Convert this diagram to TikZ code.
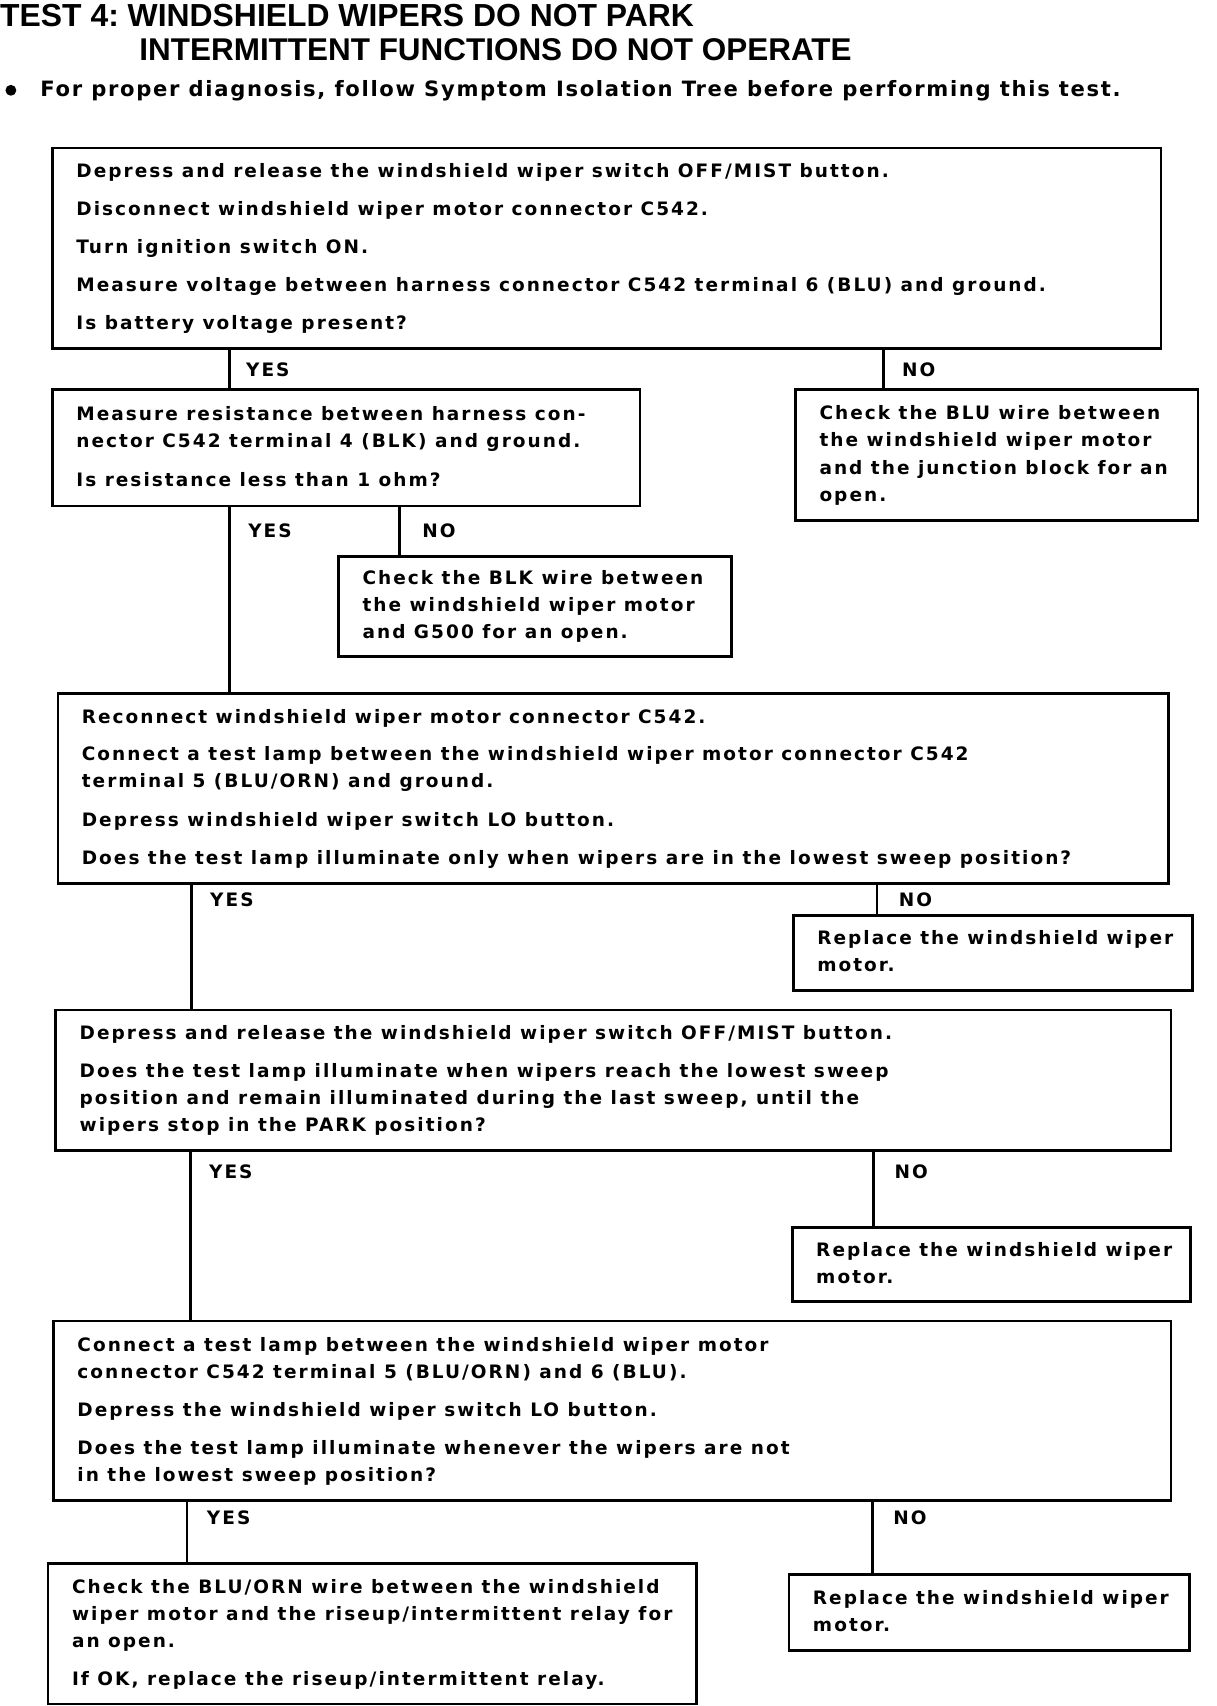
\documentclass[tikz,border=0pt]{standalone}
\usepackage{fontspec}
\setmainfont{Liberation Sans}
\newfontfamily\bodyfont{DejaVu Sans}[LetterSpace=11]
\newfontfamily\notefont{DejaVu Sans}[LetterSpace=8]
\newfontfamily\titlefont{Liberation Sans}
\newcommand\bx[2]{\makebox[#1][l]{\begin{tabular}{@{}l@{}}#2\end{tabular}}}
\frenchspacing
\begin{document}
\begin{tikzpicture}[x=1pt,y=-1pt,
  box/.style={draw, line width=2.4pt, anchor=north west, inner xsep=22pt, inner ysep=0pt,
    font=\bodyfont\bfseries\fontsize{17}{25}\selectfont},
  conn/.style={line width=2.4pt},
  lbl/.style={anchor=west, inner sep=0pt, font=\bodyfont\bfseries\fontsize{17}{25}\selectfont},
  ttl/.style={anchor=west, inner sep=0pt, font=\titlefont\bfseries\fontsize{29.3}{30}\selectfont}]
\useasboundingbox (0,0) rectangle (1118,1568);

\node[ttl] (t1) at (0,14) {TEST 4: WINDSHIELD WIPERS DO NOT PARK};
\node[ttl, font=\titlefont\bfseries\fontsize{28.9}{30}\selectfont] (t2) at (128,46) {INTERMITTENT FUNCTIONS DO NOT OPERATE};
\node[circle, fill, inner sep=0pt, minimum size=10pt] (bul) at (10,83) {};
\node[lbl, font=\notefont\bfseries\fontsize{19.4}{25}\selectfont] (note) at (37,83) {For proper diagnosis, follow Symptom Isolation Tree before performing this test.};

\node[box, minimum width=1019pt, minimum height=184pt] (b1) at (47,135) {\bx{975pt}{%
Depress and release the windshield wiper switch OFF/MIST button.\\[10pt]
Disconnect windshield wiper motor connector C542.\\[10pt]
Turn ignition switch ON.\\[10pt]
Measure voltage between harness connector C542 terminal 6 (BLU) and ground.\\[10pt]
Is battery voltage present?}};

\node[box, minimum width=540pt, minimum height=107pt] (b2) at (47,357) {\bx{496pt}{%
Measure resistance between harness con-\\
nector C542 terminal 4 (BLK) and ground.\\[10pt]
Is resistance less than 1 ohm?}};

\node[box, minimum width=370pt, minimum height=120pt] (b3) at (730,357) {\bx{326pt}{%
Check the BLU wire between\\
the windshield wiper motor\\
and the junction block for an\\
open.}};

\node[box, minimum width=361pt, minimum height=92pt] (b4) at (310,510) {\bx{317pt}{%
Check the BLK wire between\\
the windshield wiper motor\\
and G500 for an open.}};

\node[box, minimum width=1021pt, minimum height=175pt] (b5) at (52,636) {\bx{977pt}{%
Reconnect windshield wiper motor connector C542.\\[9pt]
Connect a test lamp between the windshield wiper motor connector C542\\
terminal 5 (BLU/ORN) and ground.\\[10pt]
Depress windshield wiper switch LO button.\\[10pt]
Does the test lamp illuminate only when wipers are in the lowest sweep position?}};

\node[box, minimum width=367pt, minimum height=69pt] (b6) at (728,840) {\bx{323pt}{%
Replace the windshield wiper\\
motor.}};

\node[box, minimum width=1025pt, minimum height=129pt] (b7) at (50,927) {\bx{981pt}{%
Depress and release the windshield wiper switch OFF/MIST button.\\[10pt]
Does the test lamp illuminate when wipers reach the lowest sweep\\
position and remain illuminated during the last sweep, until the\\
wipers stop in the PARK position?}};

\node[box, minimum width=366pt, minimum height=68pt] (b8) at (727,1127) {\bx{322pt}{%
Replace the windshield wiper\\
motor.}};

\node[box, minimum width=1027pt, minimum height=165pt] (b9) at (48,1213) {\bx{983pt}{%
Connect a test lamp between the windshield wiper motor\\
connector C542 terminal 5 (BLU/ORN) and 6 (BLU).\\[10pt]
Depress the windshield wiper switch LO button.\\[10pt]
Does the test lamp illuminate whenever the wipers are not\\
in the lowest sweep position?}};

\node[box, minimum width=596pt, minimum height=129pt] (b10) at (43,1436) {\bx{552pt}{%
Check the BLU/ORN wire between the windshield\\
wiper motor and the riseup/intermittent relay for\\
an open.\\[10pt]
If OK, replace the riseup/intermittent relay.}};

\node[box, minimum width=368pt, minimum height=70pt] (b11) at (724,1446) {\bx{324pt}{%
Replace the windshield wiper\\
motor.}};

% connectors
\draw[conn] (211,0 |- b1.south) -- (211,0 |- b2.north);
\draw[conn] (812,0 |- b1.south) -- (812,0 |- b3.north);
\draw[conn] (211,0 |- b2.south) -- (211,0 |- b5.north);
\draw[conn] (367,0 |- b2.south) -- (367,0 |- b4.north);
\draw[conn] (176,0 |- b5.south) -- (176,0 |- b7.north);
\draw[conn] (806,0 |- b5.south) -- (806,0 |- b6.north);
\draw[conn] (175,0 |- b7.south) -- (175,0 |- b9.north);
\draw[conn] (803,0 |- b7.south) -- (803,0 |- b8.north);
\draw[conn] (172,0 |- b9.south) -- (172,0 |- b10.north);
\draw[conn] (802,0 |- b9.south) -- (802,0 |- b11.north);

% labels
\node[lbl] (y1) at (226,340) {YES};
\node[lbl] (n1) at (829,340) {NO};
\node[lbl] (y2) at (228,488) {YES};
\node[lbl] (n2) at (388,488) {NO};
\node[lbl] (y3) at (193,827) {YES};
\node[lbl] (n3) at (826,827) {NO};
\node[lbl] (y4) at (192,1077) {YES};
\node[lbl] (n4) at (822,1077) {NO};
\node[lbl] (y5) at (190,1395) {YES};
\node[lbl] (n5) at (821,1395) {NO};
\end{tikzpicture}
\end{document}
